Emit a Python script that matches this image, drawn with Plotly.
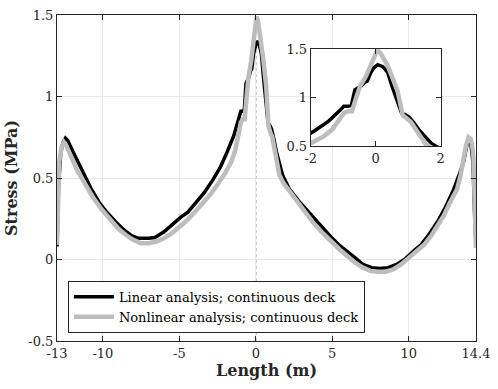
import plotly.graph_objects as go

# Linear analysis (black)
lin_x = [-13.0, -12.9, -12.75, -12.6, -12.45, -12.3, -12.0, -11.6, -11.3, -10.8, -10.24, -9.7, -9.16, -8.6, -8.1,
         -7.66, -7.0, -6.6, -6.0, -5.52, -4.9, -4.44, -3.9, -3.37, -2.8, -2.3, -1.87, -1.44, -1.13, -0.98, -0.85,
         -0.75, -0.64, -0.45, -0.33, -0.26, -0.15, -0.05, 0.06, 0.15, 0.22, 0.3, 0.37, 0.5, 0.65, 0.8, 0.93, 1.03,
         1.18, 1.35, 1.74, 2.21, 2.8, 3.28, 3.8, 4.36, 4.9, 5.43, 6.0, 6.5, 7.0, 7.58, 8.1, 8.65, 9.2, 9.72, 10.3,
         10.8, 11.3, 11.87, 12.4, 12.94, 13.3, 13.59, 13.8, 13.92, 14.05, 14.2, 14.3, 14.4]
lin_y = [0.08, 0.45, 0.66, 0.72, 0.745, 0.73, 0.67, 0.59, 0.53, 0.44, 0.35, 0.285, 0.23, 0.18, 0.145,
         0.13, 0.13, 0.135, 0.17, 0.21, 0.26, 0.29, 0.35, 0.41, 0.49, 0.57, 0.66, 0.76, 0.86, 0.91, 0.91,
         0.92, 1.08, 1.12, 1.16, 1.17, 1.26, 1.31, 1.34, 1.33, 1.32, 1.29, 1.26, 1.12, 0.98, 0.84, 0.82, 0.8,
         0.74, 0.66, 0.52, 0.43, 0.36, 0.31, 0.25, 0.19, 0.14, 0.09, 0.05, 0.01, -0.03, -0.05, -0.055, -0.05, -0.03, 0.0, 0.05,
         0.09, 0.15, 0.23, 0.32, 0.43, 0.52, 0.6, 0.7, 0.74, 0.72, 0.6, 0.3, 0.08]

# Nonlinear analysis (grey)
nl_x = [-13.0, -12.95, -12.85, -12.7, -12.55, -12.4, -12.1, -11.7, -11.2, -10.7, -10.1, -9.5, -9.0, -8.5, -8.0,
        -7.5, -7.0, -6.5, -6.0, -5.5, -5.0, -4.5, -4.0, -3.5, -2.96, -2.5, -2.0, -1.6, -1.34, -1.15, -0.98,
        -0.85, -0.73, -0.6, -0.48, -0.3, -0.13, 0.0, 0.05, 0.15, 0.25, 0.37, 0.5, 0.68, 0.83, 0.95, 1.08, 1.3,
        1.54, 1.8, 2.3, 2.8, 3.3, 3.8, 4.4, 5.0, 5.5, 6.0, 6.5, 7.0, 7.5, 8.0, 8.5, 9.0, 9.5, 10.0, 10.5, 11.0,
        11.5, 12.0, 12.3, 12.7, 13.16, 13.4, 13.59, 13.75, 13.91, 14.05, 14.15, 14.23, 14.3, 14.37, 14.4]
nl_y = [0.09, 0.4, 0.6, 0.69, 0.72, 0.7, 0.63, 0.55, 0.47, 0.39, 0.31, 0.24, 0.19, 0.15, 0.12,
        0.1, 0.1, 0.11, 0.13, 0.16, 0.2, 0.24, 0.29, 0.34, 0.4, 0.46, 0.53, 0.6, 0.67, 0.76, 0.84,
        0.86, 0.86, 1.0, 1.12, 1.22, 1.36, 1.47, 1.49, 1.46, 1.4, 1.33, 1.22, 1.06, 0.82, 0.78, 0.75, 0.64,
        0.52, 0.47, 0.41, 0.34, 0.28, 0.22, 0.16, 0.1, 0.06, 0.02, -0.02, -0.05, -0.07, -0.075, -0.075, -0.06, -0.03, 0.01, 0.05, 0.09,
        0.15, 0.22, 0.27, 0.35, 0.43, 0.52, 0.63, 0.7, 0.75, 0.74, 0.7, 0.63, 0.4, 0.15, 0.07]

x_tickvals = [-13, -10, -5, 0, 5, 10, 14.4]
x_ticktext = ["-13", "-10", "-5", "0", "5", "10", "14.4"]
y_tickvals = [-0.5, 0, 0.5, 1, 1.5]
y_ticktext = ["-0.5", "0", "0.5", "1", "1.5"]
inset_xticks = [-2, 0, 2]
inset_yticks = [0.5, 1, 1.5]

FONT = "DejaVu Serif, Liberation Serif, serif"
AX = "#262626"
BLACK_W = 3.5
GREY_W = 4.5
GREY = "#bdbdbd"

fig = go.Figure()
fig.add_trace(go.Scatter(x=lin_x, y=lin_y, mode="lines", name="Linear analysis; continuous deck",
                         line=dict(color="black", width=BLACK_W)))
fig.add_trace(go.Scatter(x=nl_x, y=nl_y, mode="lines", name="Nonlinear analysis; continuous deck",
                         line=dict(color=GREY, width=GREY_W)))
fig.add_trace(go.Scatter(x=lin_x, y=lin_y, mode="lines", showlegend=False, xaxis="x2", yaxis="y2",
                         line=dict(color="black", width=BLACK_W)))
fig.add_trace(go.Scatter(x=nl_x, y=nl_y, mode="lines", showlegend=False, xaxis="x2", yaxis="y2",
                         line=dict(color=GREY, width=GREY_W)))

# reference dotted lines
fig.add_shape(type="line", x0=0, x1=0, y0=-0.5, y1=1.28, xref="x", yref="y", layer="below",
              line=dict(color="#555555", width=1, dash="dot"))
fig.add_shape(type="line", x0=0, x1=14.4, y0=0, y1=0, xref="x", yref="y", layer="below",
              line=dict(color="#555555", width=1, dash="dot"))

axcommon = dict(showline=True, linecolor=AX, linewidth=1, mirror="allticks", ticks="inside",
                ticklen=5, tickcolor=AX, zeroline=False, tickfont=dict(family=FONT, size=13, color=AX))

fig.update_layout(
    width=498, height=389,
    margin=dict(l=57, r=15, t=8, b=48),
    paper_bgcolor="white", plot_bgcolor="white",
    font=dict(family=FONT, color=AX),
    xaxis=dict(range=[-13, 14.4], tickvals=x_tickvals, ticktext=x_ticktext, showgrid=True,
               gridcolor="#e8e8e8", gridwidth=1,
               title=dict(text="<b>Length (m)</b>", font=dict(family=FONT, size=16, color=AX), standoff=4),
               **axcommon),
    yaxis=dict(range=[-0.5, 1.5], tickvals=y_tickvals, ticktext=y_ticktext, showgrid=True,
               gridcolor="#e8e8e8", gridwidth=1,
               title=dict(text="<b>Stress (MPa)</b>", font=dict(family=FONT, size=16, color=AX), standoff=6),
               **axcommon),
    xaxis2=dict(domain=[0.6056, 0.9155], anchor="y2", range=[-2, 2], tickvals=inset_xticks,
                ticktext=["-2", "0", "2"], showgrid=False, **axcommon),
    yaxis2=dict(domain=[0.598, 0.895], anchor="x2", range=[0.5, 1.5], tickvals=inset_yticks,
                ticktext=["0.5", "1", "1.5"], showgrid=False, **axcommon),
    legend=dict(x=0.026, y=0.025, xanchor="left", yanchor="bottom", bgcolor="white",
                bordercolor=AX, borderwidth=1, itemwidth=40,
                font=dict(family=FONT, size=13, color="black"), tracegroupgap=0),
    showlegend=True,
)

fig.write_html("out.html", config={"displayModeBar": False},
               post_script="document.body.style.margin='0';")
